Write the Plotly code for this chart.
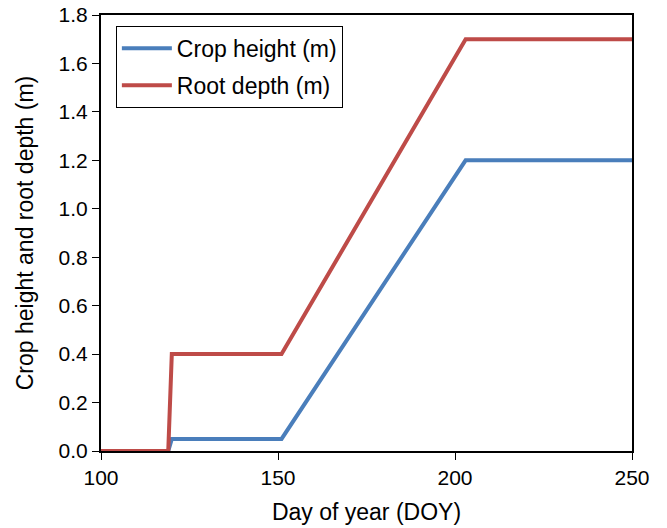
import plotly.graph_objects as go

doy = [100, 119, 120, 151, 203, 250]
crop_height = [0, 0, 0.05, 0.05, 1.2, 1.2]
root_depth = [0, 0, 0.4, 0.4, 1.7, 1.7]

x_ticks = [100, 150, 200, 250]
y_ticks = [0, 0.2, 0.4, 0.6, 0.8, 1.0, 1.2, 1.4, 1.6, 1.8]

font = "Liberation Sans, Arial, sans-serif"

fig = go.Figure()
fig.add_trace(go.Scatter(x=doy, y=crop_height, mode="lines", name="Crop height (m)",
                         line=dict(color="#4A7EBB", width=4), legendgroup="a"))
fig.add_trace(go.Scatter(x=doy, y=root_depth, mode="lines", name="Root depth (m)",
                         line=dict(color="#BE4B48", width=4), legendgroup="b"))

axis_common = dict(showgrid=False, zeroline=False, showline=True, linecolor="black",
                   linewidth=2, mirror=True, ticks="outside", ticklen=7, tickwidth=1,
                   tickcolor="black", automargin=False,
                   tickfont=dict(size=21, color="black", family=font))

fig.update_xaxes(range=[100, 250], tickvals=x_ticks, ticktext=[str(v) for v in x_ticks],
                 title=dict(text="Day of year (DOY)", font=dict(size=23, color="black", family=font),
                            standoff=16), **axis_common)
fig.update_yaxes(range=[0, 1.8], tickvals=y_ticks, ticktext=[f"{v:.1f}" for v in y_ticks],
                 title=dict(text="Crop height and root depth (m)", font=dict(size=23, color="black", family=font),
                            standoff=19), **axis_common)

fig.update_layout(
    width=667, height=528,
    margin=dict(l=101, r=35, t=15, b=77),
    plot_bgcolor="white", paper_bgcolor="white",
    font=dict(family=font, color="black", size=21),
    legend=dict(x=0.028, y=0.975, xanchor="left", yanchor="top",
                bordercolor="black", borderwidth=1, bgcolor="white",
                font=dict(size=23, family=font, color="black"),
                itemwidth=50, tracegroupgap=4, traceorder="grouped"),
)

fig.write_html("out.html", config={"displayModeBar": False},
               post_script="document.body.style.margin='0';")
